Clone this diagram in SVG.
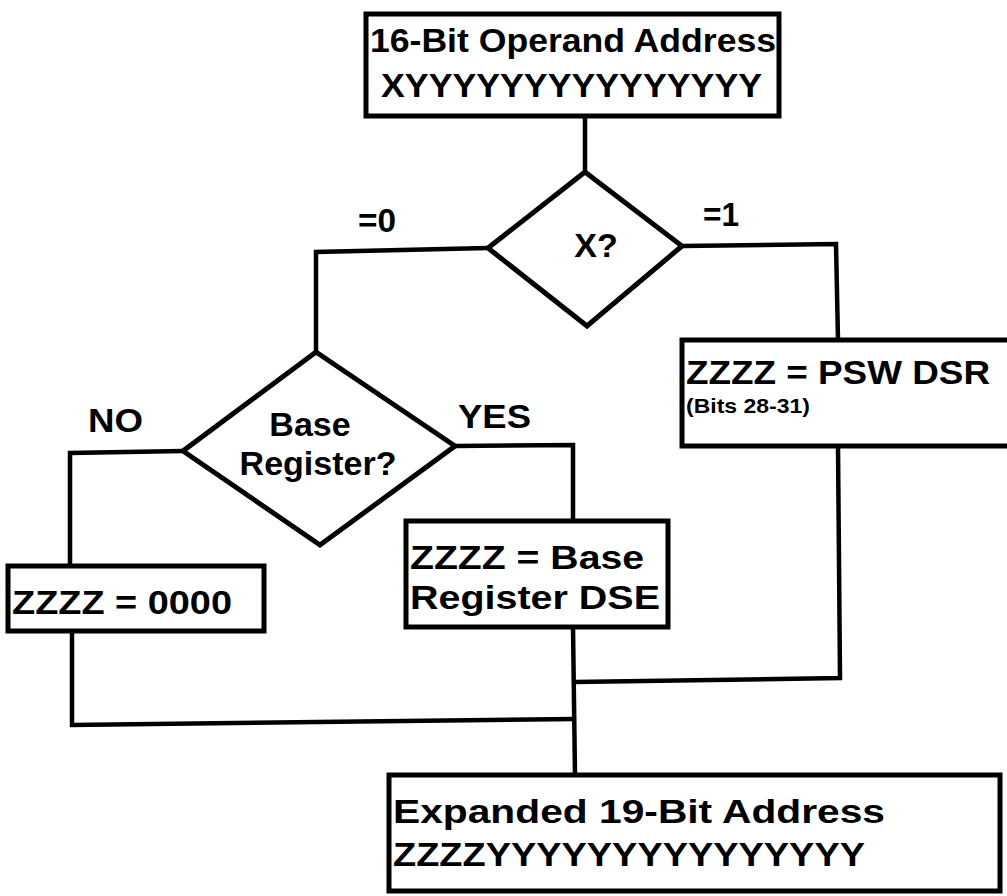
<svg xmlns="http://www.w3.org/2000/svg" width="1007" height="896" viewBox="0 0 1007 896">
<style>
.box{fill:#fff;stroke:#000;stroke-width:5}
.dia{fill:#fff;stroke:#000;stroke-width:5;stroke-linejoin:miter}
.con{fill:none;stroke:#000;stroke-width:4.5;stroke-linejoin:miter}
text{font-family:"Liberation Sans",Arial,sans-serif;font-weight:bold;fill:#000}
.t{font-size:34px}
.s{font-size:21px}
</style>
<rect width="1007" height="896" fill="#fff"/>
<g id="connectors">
<path class="con" d="M585,116 L585,172"/>
<path class="con" d="M682,246 L836,244 L838,340"/>
<path class="con" d="M488,248 L316,252 L316,352"/>
<path class="con" d="M183,451 L70,453 L70,567"/>
<path class="con" d="M455,446 L573,445 L573,522"/>
<path class="con" d="M838,446 L840,678 L575,682"/>
<path class="con" d="M573,627 L575,775"/>
<path class="con" d="M72,631 L72,725 L575,719"/>
</g>
<g id="start">
<rect class="box" x="366" y="14" width="413" height="102"/>
<text class="t" x="370" y="52" textLength="406" lengthAdjust="spacingAndGlyphs">16-Bit Operand Address</text>
<text class="t" x="381" y="97" textLength="381" lengthAdjust="spacingAndGlyphs">XYYYYYYYYYYYYYYY</text>
</g>
<g id="decisionX">
<polygon class="dia" points="585,172 682,246 587,326 488,248"/>
<text class="t" x="596" y="257" text-anchor="middle">X?</text>
</g>
<g id="label0"><text class="t" x="358" y="232" textLength="38" lengthAdjust="spacingAndGlyphs">=0</text></g>
<g id="label1"><text class="t" x="703" y="226" textLength="36" lengthAdjust="spacingAndGlyphs">=1</text></g>
<g id="decisionBase">
<polygon class="dia" points="316,352 455,446 320,545 183,451"/>
<text class="t" x="310" y="436" text-anchor="middle">Base</text>
<text class="t" x="318" y="475" text-anchor="middle">Register?</text>
</g>
<g id="labelNo"><text class="t" x="88" y="432" textLength="55" lengthAdjust="spacingAndGlyphs">NO</text></g>
<g id="labelYes"><text class="t" x="458" y="428" textLength="73" lengthAdjust="spacingAndGlyphs">YES</text></g>
<g id="zero">
<rect class="box" x="8" y="566" width="256" height="65"/>
<text class="t" x="12" y="614" textLength="220" lengthAdjust="spacingAndGlyphs">ZZZZ = 0000</text>
</g>
<g id="baseReg">
<rect class="box" x="406" y="521" width="262" height="106"/>
<text class="t" x="410" y="569" textLength="234" lengthAdjust="spacingAndGlyphs">ZZZZ = Base</text>
<text class="t" x="410" y="609" textLength="250" lengthAdjust="spacingAndGlyphs">Register DSE</text>
</g>
<g id="psw">
<rect class="box" x="682" y="340" width="330" height="106"/>
<text class="t" x="686" y="384" textLength="304" lengthAdjust="spacingAndGlyphs">ZZZZ = PSW DSR</text>
<text class="s" x="686" y="413" textLength="124" lengthAdjust="spacingAndGlyphs">(Bits 28-31)</text>
</g>
<g id="expanded">
<rect class="box" x="389" y="775" width="611" height="116"/>
<text class="t" x="393" y="823" textLength="492" lengthAdjust="spacingAndGlyphs">Expanded 19-Bit Address</text>
<text class="t" x="393" y="866" textLength="472" lengthAdjust="spacingAndGlyphs">ZZZZYYYYYYYYYYYYYYY</text>
</g>
</svg>
